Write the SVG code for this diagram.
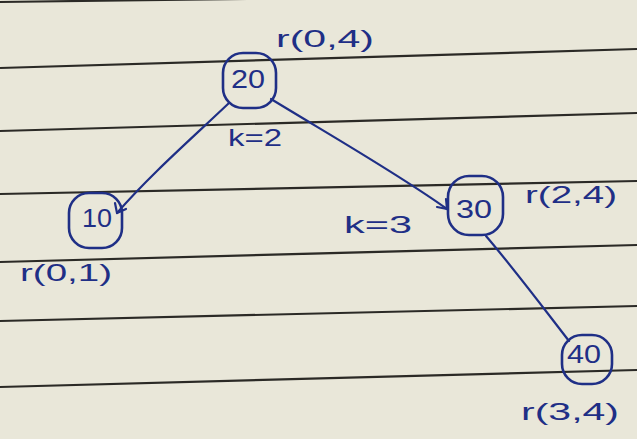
<svg xmlns="http://www.w3.org/2000/svg" width="637" height="439" viewBox="0 0 637 439">
<defs>
<style>
.ruled{stroke:#2b2a26;stroke-width:2.2;fill:none}
.node{fill:none;stroke:#1f2f86;stroke-width:2.6}
.edge{fill:none;stroke:#1f2f86;stroke-width:2.2;stroke-linecap:round;stroke-linejoin:round}
.t{font-family:"Liberation Sans",Arial,sans-serif;fill:#1f2f86;text-anchor:middle;dominant-baseline:central}
.n{font-size:26px}
.lbl{font-size:24px}
</style>
</defs>
<rect width="637" height="439" fill="#e9e7d9"/>
<g id="ruling">
<line class="ruled" x1="0" y1="2" x2="637" y2="-6"/>
<line class="ruled" x1="0" y1="68" x2="637" y2="49"/>
<line class="ruled" x1="0" y1="131" x2="637" y2="113"/>
<line class="ruled" x1="0" y1="194" x2="637" y2="181"/>
<line class="ruled" x1="0" y1="262" x2="637" y2="245"/>
<line class="ruled" x1="0" y1="321" x2="637" y2="306"/>
<line class="ruled" x1="0" y1="387" x2="637" y2="370"/>
</g>
<g id="connectors">
<path class="edge" d="M229 103 C190 140 150 175 117 213"/>
<path class="edge" d="M117 213 L115 203 M117 213 L126 209"/>
<path class="edge" d="M271 99 C330 135 400 175 447 209"/>
<path class="edge" d="M447 209 L437 207 M447 209 L446 199"/>
<path class="edge" d="M486 236 C515 270 545 310 569 341"/>
</g>
<g id="node-20">
<rect class="node" x="223" y="53" width="53" height="55" rx="20"/>
<text class="t n" x="248" y="79" textLength="34" lengthAdjust="spacingAndGlyphs">20</text>
<text class="t lbl" x="325" y="38" textLength="98" lengthAdjust="spacingAndGlyphs">r(0,4)</text>
</g>
<g id="node-10">
<rect class="node" x="69" y="193" width="53" height="55" rx="20"/>
<text class="t n" x="97" y="218" textLength="30" lengthAdjust="spacingAndGlyphs">10</text>
<text class="t lbl" x="66" y="272" textLength="92" lengthAdjust="spacingAndGlyphs">r(0,1)</text>
</g>
<g id="node-30">
<rect class="node" x="448" y="176" width="55" height="59" rx="21"/>
<text class="t n" x="474" y="209" textLength="36" lengthAdjust="spacingAndGlyphs">30</text>
<text class="t lbl" x="571" y="194" textLength="92" lengthAdjust="spacingAndGlyphs">r(2,4)</text>
</g>
<g id="node-40">
<rect class="node" x="562" y="335" width="50" height="49" rx="20"/>
<text class="t n" x="584" y="354" textLength="34" lengthAdjust="spacingAndGlyphs">40</text>
<text class="t lbl" x="570" y="411" textLength="98" lengthAdjust="spacingAndGlyphs">r(3,4)</text>
</g>
<g id="edge-labels">
<text class="t lbl" x="255" y="137" textLength="54" lengthAdjust="spacingAndGlyphs">k=2</text>
<text class="t lbl" x="378" y="224" textLength="68" lengthAdjust="spacingAndGlyphs">k=3</text>
</g>
</svg>
